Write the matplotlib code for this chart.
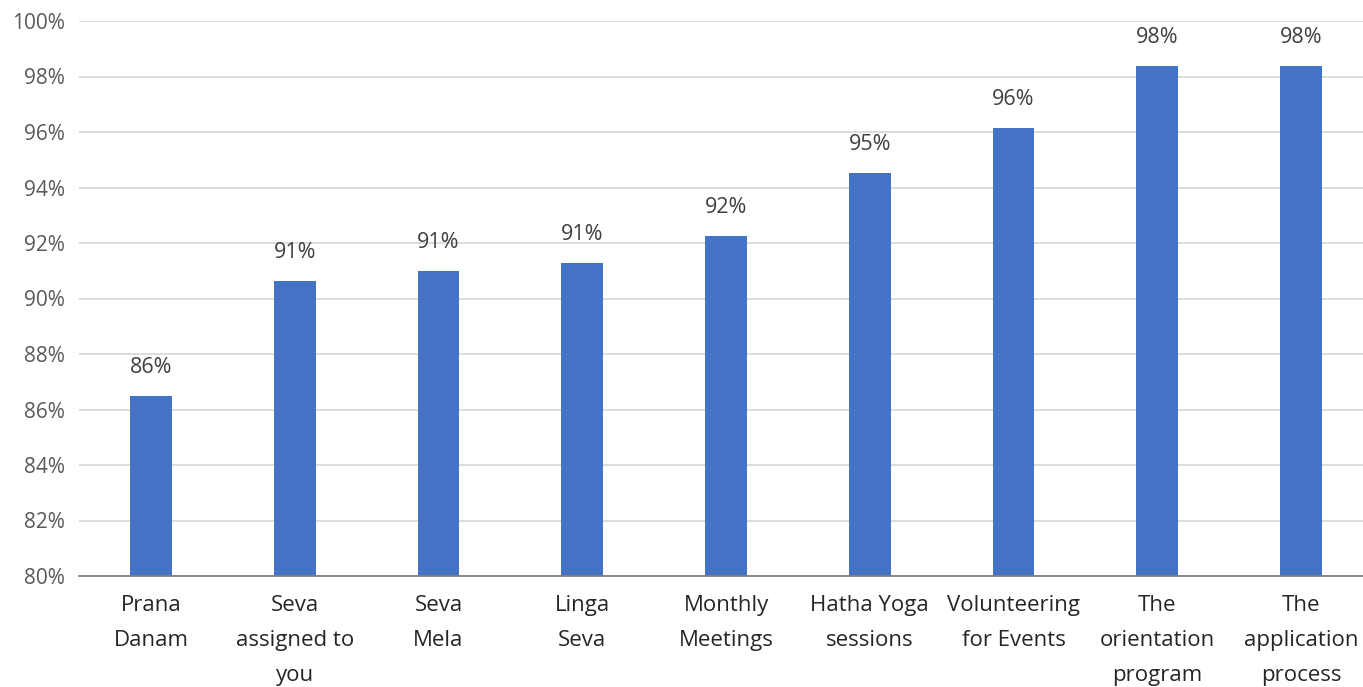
import matplotlib
matplotlib.use("Agg")
import matplotlib.pyplot as plt
from matplotlib.ticker import FuncFormatter

plt.rcParams["font.family"] = ["Open Sans", "DejaVu Sans"]

categories = [
    "Prana\nDanam",
    "Seva\nassigned to\nyou",
    "Seva\nMela",
    "Linga\nSeva",
    "Monthly\nMeetings",
    "Hatha Yoga\nsessions",
    "Volunteering\nfor Events",
    "The\norientation\nprogram",
    "The\napplication\nprocess",
]
values = [86.49, 90.63, 90.99, 91.28, 92.25, 94.52, 96.14, 98.38, 98.38]
yticks = list(range(80, 101, 2))

BAR = "#4472c4"
TXT = "#595959"

fig = plt.figure(figsize=(13.63, 6.87), dpi=100)
ax = fig.add_axes([79 / 1363, 111 / 687, 1294 / 1363, 555 / 687])

x = range(len(categories))
ax.bar(x, values, width=0.29, color=BAR, zorder=3)
for xi, v in zip(x, values):
    ax.text(xi, v + 0.65, f"{v:.0f}%", ha="center", va="bottom",
            fontsize=15.5, color="#404040")

ax.set_xlim(-0.5, len(categories) - 0.5)
ax.set_ylim(80, 100)
ax.set_yticks(yticks)
ax.yaxis.set_major_formatter(FuncFormatter(lambda v, _: f"{v:.0f}%"))
ax.set_xticks(list(x))
ax.set_xticklabels(categories, fontsize=16, color="#262626", linespacing=1.85)

ax.grid(axis="y", color="#d9d9d9", lw=1.3, zorder=0)
for s in ["top", "right", "left"]:
    ax.spines[s].set_visible(False)
ax.spines["bottom"].set_color("#7f7f7f")
ax.spines["bottom"].set_linewidth(1.3)
ax.spines["bottom"].set_zorder(4)
ax.tick_params(axis="y", length=0, labelsize=15, labelcolor=TXT, pad=10)
ax.tick_params(axis="x", length=0, pad=14)

fig.savefig("out.png", dpi=100)
